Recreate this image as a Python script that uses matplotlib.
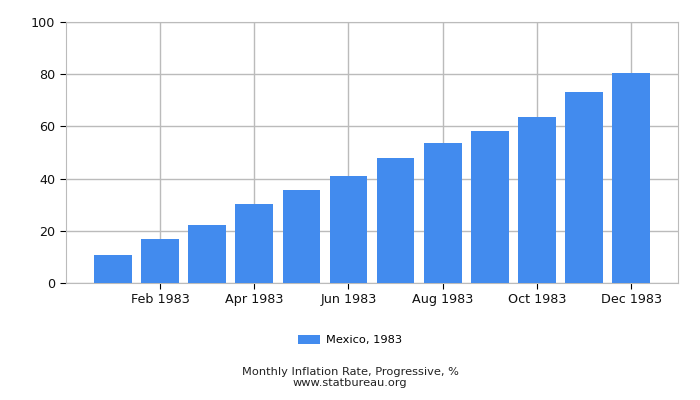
import matplotlib
matplotlib.use("Agg")
import matplotlib.pyplot as plt

# Mexico, monthly inflation rate (progressive), 1983
months = ["Jan 1983", "Feb 1983", "Mar 1983", "Apr 1983", "May 1983", "Jun 1983",
          "Jul 1983", "Aug 1983", "Sep 1983", "Oct 1983", "Nov 1983", "Dec 1983"]
values = [10.8, 17.0, 22.3, 30.4, 35.7, 41.1, 48.0, 53.8, 58.3, 63.7, 73.3, 80.6]
series_name = "Mexico, 1983"

bar_color = "#428bee"
grid_color = "#bbbbbb"

fig = plt.figure(figsize=(7, 4), dpi=100)
ax = fig.add_axes([0.094, 0.2925, 0.875, 0.6525])

x = list(range(len(values)))
ax.bar(x, values, width=0.8, color=bar_color, label=series_name, zorder=3)

ax.set_xlim(-1, 12)
ax.set_ylim(0, 100)
ax.set_yticks(range(0, 101, 20))
ax.set_xticks(x[1::2])
ax.set_xticklabels(months[1::2])
ax.tick_params(axis="both", labelsize=9.2, length=4, color="black", labelcolor="#111111")

ax.grid(True, color=grid_color, linewidth=1, zorder=0)
for s in ax.spines.values():
    s.set_color(grid_color)

fig.legend(loc="center", bbox_to_anchor=(0.5, 0.15), frameon=False, fontsize=8.2,
           handlelength=2.0, handleheight=0.8, handletextpad=0.5)
fig.text(0.5, 0.063, "Monthly Inflation Rate, Progressive, %", ha="center", fontsize=8.2, color="#222222")
fig.text(0.5, 0.036, "www.statbureau.org", ha="center", fontsize=8.2, color="#222222")

fig.savefig("out.png", dpi=100)
